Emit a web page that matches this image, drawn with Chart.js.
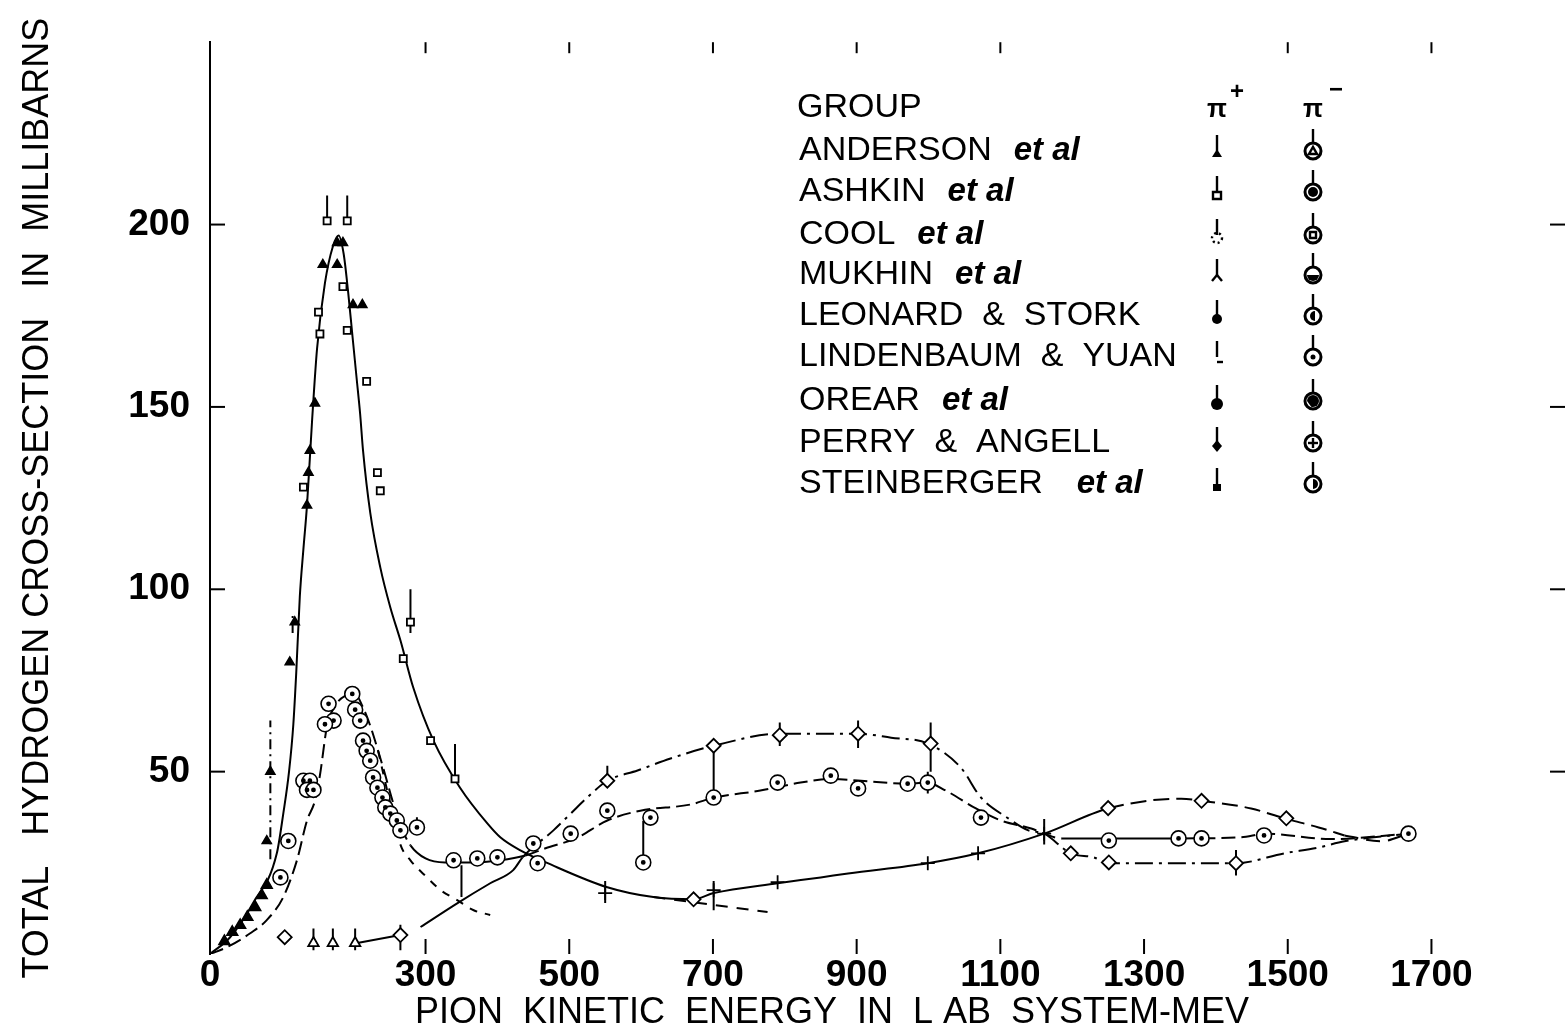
<!DOCTYPE html>
<html><head><meta charset="utf-8">
<script src="https://cdn.jsdelivr.net/npm/chart.js@4/dist/chart.umd.min.js"></script>
<style>html,body{margin:0;padding:0;background:#fff;}#wrap{width:1567px;height:1033px;}</style>
</head><body><div id="wrap"><canvas id="c" width="1567" height="1033" style="width:1567px;height:1033px"></canvas></div>
<script>
// ---------- DATA ----------
const xTickValues = [0, 300, 500, 700, 900, 1100, 1300, 1500, 1700];
const yTickValues = [50, 100, 150, 200];
const topTickValues = [300, 500, 700, 900, 1100, 1500, 1700];
const xTitle = 'PION  KINETIC  ENERGY  IN  L AB  SYSTEM-MEV';
const yTitle = 'TOTAL   HYDROGEN CROSS-SECTION   IN  MILLIBARNS';

// pi+ total cross-section curve (solid)
const piPlusE = [0, 28, 60, 93, 102, 110, 116, 120, 125, 130, 135, 142, 149, 160, 171, 179, 186, 192, 198, 204, 209, 213, 223, 237, 251, 265, 283, 311, 348, 386, 404, 432, 470, 553, 617, 673, 701, 790, 850, 888, 999, 1069, 1161, 1250, 1352, 1380, 1449, 1495, 1543, 1579];
const piPlusS = [0, 4.6, 14, 27.6, 38.5, 50, 63, 77, 98, 111, 123, 146, 166, 184, 194, 197, 192, 182, 170, 158, 148, 138, 121, 106, 95, 86, 73, 58.5, 45.6, 35.8, 32, 28.4, 24.9, 18.3, 15.6, 15, 16.7, 19.4, 21, 22.1, 24.9, 27.6, 33, 39.9, 42.6, 42, 39.9, 37.2, 34.7, 32.5];
const piPlusTailE = [1579, 1630, 1668];
const piPlusTailS = [32.5, 30.9, 33];
const piPlusLowTailE = [617, 700, 776];
const piPlusLowTailS = [15.6, 13.5, 11.5];

// pi- total cross-section curve
const piMinusE = [0, 24, 56, 79, 102, 121, 135, 146, 153, 163, 174, 188, 202, 212, 223, 234, 244, 254, 265, 279, 300, 327, 362, 404, 439, 467, 509, 553, 599, 669, 702, 766, 822, 864, 906, 969, 997, 1024, 1066, 1101, 1143, 1161, 1185, 1250, 1352, 1435, 1470, 1560, 1668];
const piMinusS = [0, 1.9, 5.7, 9.3, 15.6, 25.7, 36.6, 42, 49, 62.6, 68, 70.8, 71.3, 68, 62.6, 55.7, 49, 42, 35.2, 29.8, 26.2, 25.1, 25.1, 25.7, 27, 29, 31.7, 36.6, 39.3, 41, 42.9, 44.8, 47, 48, 47.5, 46.7, 47, 44.8, 39.9, 36.6, 34.4, 33, 31.7, 31.7, 31.7, 32, 33, 31.5, 33];
// steeper pi- fall-off (dashed)
const piMinusAltE = [234, 244, 255, 265, 279, 302, 321, 344, 367, 390];
const piMinusAltS = [55.7, 47, 38, 30, 25.7, 21, 17.5, 14.8, 12, 10.7];

// curve through the diamond points (dash-dot)
const diaCurveE = [205, 265, 280, 293, 344, 390, 422, 435, 478, 502, 525, 553, 595, 641, 701, 794, 902, 948, 999, 1045, 1073, 1111, 1139, 1161, 1198, 1230, 1251, 1330, 1428, 1495, 1543, 1579, 1668];
const diaCurveS = [3, 5.2, null, 7.4, 13.9, 19.4, 23, 26.5, 33.9, 38.5, 42.9, 47.5, 50.3, 53.6, 57.1, 60.4, 60.4, 59.3, 57.7, 51.1, 42.9, 37.2, 33.9, 33, 27.6, 26.5, 24.9, 24.9, 24.9, 27.6, 29.2, 30.9, 33];

// measured points
const plusLowE = [20, 31, 42, 52, 63, 72, 79];
const plusLowS = [3.5, 6, 7.9, 10.1, 12.8, 16.1, 18.9];
const plusFilledE = [177, 185, 157, 177, 199, 212, 146, 139, 137, 135, 118, 111, 79, 84];
const plusFilledS = [195, 195, 189, 189, 178, 178, 151, 138, 132, 123, 91, 80, 31, 50];
const plusOpenE = [163, 191, 185, 151, 153, 191, 218, 130, 233, 237, 269, 279, 307, 341];
const plusOpenS = [201, 201, 183, 176, 170, 171, 157, 128, 132, 127, 81, 91, 58.5, 48];
const plusHighE = [550, 701, 790, 999, 1069, 1161];
const plusHighS = [16.7, 17.5, 19.7, 24.9, 27.6, 33];
const diamondE = [104, 265, 553, 701, 793, 902, 1003, 1198, 1251, 1428, 673, 1250, 1380, 1498];
const diamondS = [4.6, 5.2, 47.5, 57.1, 60, 60.4, 57.7, 27.6, 25.1, 24.9, 15, 40, 42, 37.2];
const lowTriE = [144, 171, 202];
const lowTriS = [3, 3, 3];
const minusE = [109, 98, 130, 139, 135, 144, 165, 172, 198, 202, 160, 209, 213, 218, 223, 227, 233, 240, 244, 251, 260, 265, 288, 339, 372, 400, 450, 456, 502, 553, 613, 603, 701, 790, 864, 902, 971, 999, 1073, 1251, 1348, 1380, 1467, 1668];
const minusS = [31, 21, 47.5, 47.5, 45, 45, 68.6, 64, 71.3, 67, 63, 64, 58.5, 55.7, 53, 48.4, 45.6, 42.9, 40.2, 38.5, 36.6, 33.9, 34.7, 25.7, 26.2, 26.5, 30.3, 24.9, 33, 39.3, 37.4, 25.1, 42.9, 47, 48.9, 45.4, 46.7, 47, 37.4, 31.1, 31.7, 31.7, 32.5, 33];

// error bars (solid)
const errE  = [163, 191, 279, 341, 350, 603, 701, 701, 553, 793, 902, 1003, 999, 1428, 550, 144, 171, 202, 265, 1161, 288];
const errLo = [201, 201, 88, 48, 15.6, 25.1, 42.9, 12, 47.5, 57, 56.5, 50, 44, 21.5, 14, 1, 1, 1, 1, 30, 34.7];
const errHi = [208, 208, 100, 57.6, 24.3, 36.5, 57.1, 20, 51.6, 63.5, 64, 63.5, 50, 28.5, 20, 7, 7, 7, 8, 37, 37.5];
// error bars (broken)
const errDashE  = [84, 115];
const errDashLo = [26, 88];
const errDashHi = [64, 93];

// legend table
const legendNames = ['ANDERSON', 'ASHKIN', 'COOL', 'MUKHIN', 'LEONARD  &  STORK', 'LINDENBAUM  &  YUAN', 'OREAR', 'PERRY  &  ANGELL', 'STEINBERGER'];
const legendEtAl = [true, true, true, true, false, false, true, false, true];
const legendPlusSym = ['tri', 'sqOpen', 'dotCircle', 'Y', 'drop', 'L', 'circFill', 'diamond', 'rectFill'];
const legendMinusSym = ['tri', 'fill', 'sq', 'half', 'crescent', 'dot', 'fillHalf', 'cross', 'halfline'];

// ---------- CHART ----------
const FONT = '"Liberation Sans", Arial, sans-serif';
const pts = (E, S) => E.map((e, i) => ({x: e, y: S[i]}));
const bars = (E, L, H) => { const d = []; E.forEach((e, i) => d.push({x: e, y: L[i]}, {x: e, y: H[i]}, {x: e, y: null})); return d; };
const lineDs = (label, E, S, dash, extra) => Object.assign({label, data: pts(E, S), showLine: true, borderColor: '#000', borderWidth: 2, borderDash: dash, pointRadius: 0, cubicInterpolationMode: 'monotone', fill: false, spanGaps: false}, extra || {});
const markDs = (label, E, S, style, r, fill, extra) => Object.assign({label, data: pts(E, S), showLine: false, pointStyle: style, pointRadius: r, borderColor: '#000', backgroundColor: fill, pointBorderWidth: 1.8, borderWidth: 1.8}, extra || {});

const DASHDOT = [18, 6, 3, 6];

const decor = {
  id: 'decor',
  afterDraw(chart) {
    const ctx = chart.ctx, xs = chart.scales.x, ys = chart.scales.y, a = chart.chartArea;
    ctx.save();
    ctx.strokeStyle = '#000'; ctx.fillStyle = '#000'; ctx.lineWidth = 2;
    const ln = (x1, y1, x2, y2) => { ctx.beginPath(); ctx.moveTo(x1, y1); ctx.lineTo(x2, y2); ctx.stroke(); };
    xTickValues.forEach(v => { if (v === 0) return; const px = xs.getPixelForValue(v); ln(px, a.bottom, px, a.bottom - 15); });
    topTickValues.forEach(v => { const px = xs.getPixelForValue(v); ln(px, a.top, px, a.top + 11); });
    yTickValues.forEach(v => { const py = ys.getPixelForValue(v); ln(a.left, py, a.left + 15, py); ln(a.right, py, a.right + 15, py); });
    // x title
    ctx.font = '36px ' + FONT; ctx.textAlign = 'center'; ctx.textBaseline = 'middle';
    ctx.fillText(xTitle, 832, 1013);
    // legend
    const lx = 799, base = [117, 160, 201, 244, 284, 325, 366, 410, 452, 493];
    ctx.textAlign = 'left'; ctx.textBaseline = 'alphabetic';
    ctx.font = '34px ' + FONT;
    ctx.fillText('GROUP', lx - 2, base[0]);
    legendNames.forEach((n, i) => {
      ctx.font = '34px ' + FONT;
      ctx.fillText(n, lx, base[i + 1]);
      if (legendEtAl[i]) {
        const w = ctx.measureText(n).width;
        ctx.font = 'italic bold 33px ' + FONT;
        ctx.fillText('et al', lx + w + (n === 'STEINBERGER' ? 34 : 22), base[i + 1]);
      }
    });
    // column headers
    const cp = 1217, cm = 1313;
    ctx.font = 'bold 26px ' + FONT;
    ctx.textAlign = 'center';
    ctx.fillText('\u03c0', cp, base[0]); ctx.fillText('\u03c0', cm, base[0]);
    ctx.font = 'bold 24px ' + FONT;
    ctx.fillText('+', cp + 20, base[0] - 18); ctx.fillText('\u2212', cm + 23, base[0] - 20);
    // symbols
    ctx.lineWidth = 2.4;
    legendPlusSym.forEach((k, i) => drawSym(ctx, k, cp, base[i + 1] - 9, false));
    legendMinusSym.forEach((k, i) => drawSym(ctx, k, cm, base[i + 1] - 9, true));
    ctx.restore();
  }
};

function drawSym(ctx, k, x, y, ring) {
  const ln = (x1, y1, x2, y2) => { ctx.beginPath(); ctx.moveTo(x1, y1); ctx.lineTo(x2, y2); ctx.stroke(); };
  if (ring) {
    ln(x, y - 22, x, y - 8);
    ctx.beginPath(); ctx.arc(x, y, 8, 0, Math.PI * 2); ctx.lineWidth = 3; ctx.stroke(); ctx.lineWidth = 2.4;
    ctx.beginPath();
    if (k === 'tri') { ctx.moveTo(x - 4, y + 3); ctx.lineTo(x + 4, y + 3); ctx.lineTo(x, y - 4); ctx.closePath(); ctx.stroke(); }
    else if (k === 'fill') { ctx.arc(x, y, 5, 0, Math.PI * 2); ctx.fill(); }
    else if (k === 'sq') { ctx.rect(x - 3, y - 3, 6, 6); ctx.stroke(); }
    else if (k === 'half') { ctx.arc(x, y, 6, 0, Math.PI); ctx.fill(); }
    else if (k === 'crescent') { ctx.arc(x + 2, y, 5, Math.PI * 0.5, Math.PI * 1.5); ctx.fill(); }
    else if (k === 'dot') { ctx.arc(x, y, 2.5, 0, Math.PI * 2); ctx.fill(); }
    else if (k === 'fillHalf') { ctx.arc(x, y, 6, Math.PI, Math.PI * 2.6); ctx.fill(); }
    else if (k === 'cross') { ln(x - 5, y, x + 5, y); ln(x, y - 5, x, y + 5); }
    else if (k === 'halfline') { ctx.arc(x, y, 5, Math.PI * 1.5, Math.PI * 2.5); ctx.fill(); }
    return;
  }
  ln(x, y - 16, x, y);
  ctx.beginPath();
  if (k === 'tri') { ctx.moveTo(x - 5, y + 6); ctx.lineTo(x + 5, y + 6); ctx.lineTo(x, y - 2); ctx.closePath(); ctx.fill(); }
  else if (k === 'sqOpen') { ctx.rect(x - 4, y, 8, 7); ctx.stroke(); }
  else if (k === 'dotCircle') { ctx.setLineDash([2, 3]); ctx.arc(x, y + 3, 5, 0, Math.PI * 2); ctx.stroke(); ctx.setLineDash([]); }
  else if (k === 'Y') { ln(x, y, x - 5, y + 6); ln(x, y, x + 5, y + 6); }
  else if (k === 'drop') { ctx.arc(x, y + 3, 5, 0, Math.PI * 2); ctx.fill(); }
  else if (k === 'L') { ln(x, y + 5, x + 6, y + 5); }
  else if (k === 'circFill') { ctx.arc(x, y + 3, 6, 0, Math.PI * 2); ctx.fill(); }
  else if (k === 'diamond') { ctx.moveTo(x, y - 3); ctx.lineTo(x + 5, y + 3); ctx.lineTo(x, y + 9); ctx.lineTo(x - 5, y + 3); ctx.closePath(); ctx.fill(); }
  else if (k === 'rectFill') { ctx.rect(x - 4, y, 8, 7); ctx.fill(); }
}

const datasets = [
  markDs('pi+ low', plusLowE, plusLowS, 'triangle', 6, '#000'),
  markDs('pi+ filled', plusFilledE, plusFilledS, 'triangle', 5, '#000'),
  markDs('pi+ open', plusOpenE, plusOpenS, 'rect', 5, '#fff'),
  markDs('pi+ high', plusHighE, plusHighS, 'cross', 7, '#fff'),
  markDs('diamonds', diamondE, diamondS, 'rectRot', 7, '#fff'),
  markDs('low triangles', lowTriE, lowTriS, 'triangle', 6, '#fff'),
  markDs('pi- dots', minusE, minusS, 'circle', 1.5, '#000'),
  markDs('pi- circles', minusE, minusS, 'circle', 7.5, '#fff', {pointBorderWidth: 1.6}),
  {label: 'error bars', data: bars(errE, errLo, errHi), showLine: true, spanGaps: false, borderColor: '#000', borderWidth: 2, pointRadius: 0, tension: 0},
  {label: 'broken error bars', data: bars(errDashE, errDashLo, errDashHi), showLine: true, spanGaps: false, borderColor: '#000', borderWidth: 2, borderDash: [10, 5, 2, 5], pointRadius: 0, tension: 0},
  lineDs('pi+', piPlusE, piPlusS, [], {segment: {borderDash: c => c.p0.parsed.x >= 1250 ? [16, 7] : undefined}}),
  lineDs('pi+ tail', piPlusTailE, piPlusTailS, [14, 8]),
  lineDs('pi+ low tail', piPlusLowTailE, piPlusLowTailS, [12, 9]),
  lineDs('pi-', piMinusE, piMinusS, [14, 6], {segment: {borderDash: c => ((c.p0.parsed.x >= 279 && c.p0.parsed.x < 439) || (c.p0.parsed.x >= 1185 && c.p0.parsed.x < 1352)) ? [] : undefined}}),
  lineDs('pi- steep', piMinusAltE, piMinusAltS, [8, 8]),
  lineDs('dash-dot', diaCurveE, diaCurveS, [], {segment: {borderDash: c => c.p0.parsed.x >= 435 ? DASHDOT : undefined}})
];

new Chart(document.getElementById('c'), {
  type: 'scatter',
  data: {datasets},
  plugins: [decor],
  options: {
    responsive: false, animation: false, devicePixelRatio: 1,
    layout: {padding: {left: 0, right: 17, top: 40, bottom: 0}},
    plugins: {legend: {display: false}, tooltip: {enabled: false}},
    scales: {
      x: {
        type: 'linear', min: 0, max: 1865,
        afterBuildTicks: s => { s.ticks = xTickValues.map(v => ({value: v})); },
        afterFit: s => { s.height = 79; },
        grid: {display: false, drawTicks: false},
        border: {display: false},
        ticks: {color: '#000', font: {family: FONT, size: 37, weight: 'bold'}, padding: 0, maxRotation: 0, autoSkip: false, callback: v => String(v)}
      },
      y: {
        type: 'linear', min: 0, max: 250,
        afterBuildTicks: s => { s.ticks = yTickValues.map(v => ({value: v})); },
        afterFit: s => { s.width = 210; },
        grid: {display: false, drawTicks: false},
        border: {display: true, color: '#000', width: 2},
        ticks: {color: '#000', font: {family: FONT, size: 37, weight: 'bold'}, padding: 20, callback: v => String(v)},
        title: {display: true, text: yTitle, color: '#000', font: {family: FONT, size: 36}, padding: {top: 16, bottom: 0}}
      }
    }
  }
});
</script></body></html>
